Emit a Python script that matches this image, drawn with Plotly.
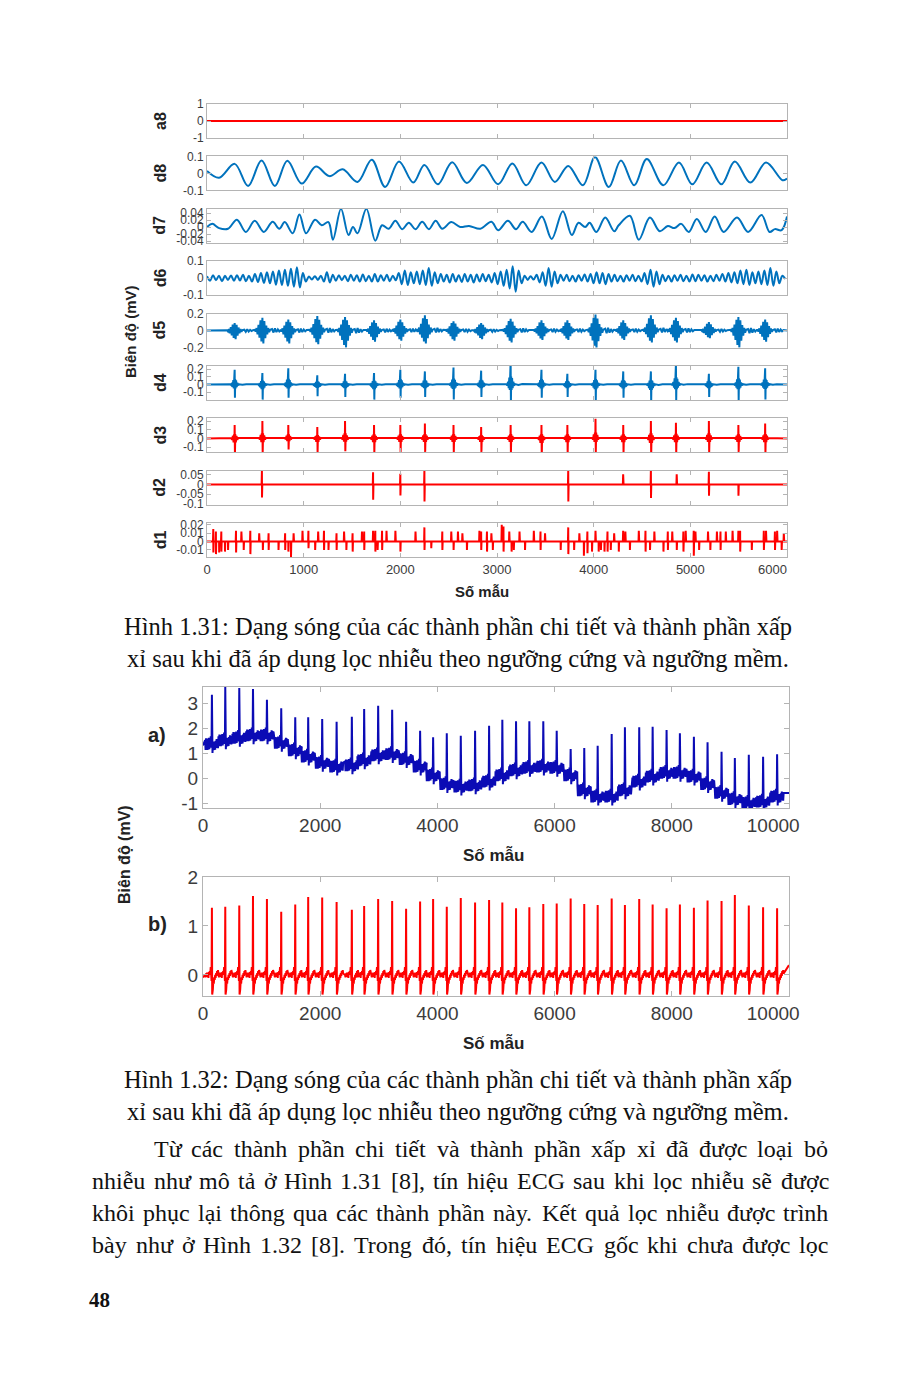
import unicodedata
import plotly.graph_objects as go

# page is drawn 8 px in from the window corner (browser body margin)
OFF = 8
W, H = 916 - OFF, 1388 - OFF

# ====================== Figure 1.31 data (samples 0..6000) ======================
sig_extent = [0, 6000]
beat_samples = [286, 573, 841, 1141, 1428, 1728, 2000, 2254, 2550, 2836,
                3141, 3460, 3728, 4019, 4306, 4592, 4851, 5192, 5497, 5774]

a8_samples = [0, 6000]
a8_values = [0, 0]

d8_samples = [0, 125, 286, 425, 564, 702, 831, 979, 1127, 1266, 1404, 1557, 1704, 1843, 1986,
              2134, 2249, 2388, 2536, 2688, 2855, 3012, 3159, 3303, 3460, 3598, 3737, 3889,
              4014, 4157, 4282, 4420, 4550, 4721, 4882, 5021, 5169, 5321, 5460, 5621, 5783,
              5954, 6000]
d8_values = [0.014, -0.026, 0.056, -0.074, 0.076, -0.074, 0.074, -0.06, 0.04, -0.016, 0.024,
             -0.05, 0.08, -0.08, 0.07, -0.054, 0.05, -0.064, 0.066, -0.056, 0.05, -0.064, 0.058,
             -0.07, 0.064, -0.05, 0.044, -0.07, 0.096, -0.08, 0.076, -0.07, 0.084, -0.07, 0.064,
             -0.064, 0.064, -0.064, 0.07, -0.054, 0.064, -0.04, -0.03]

d7_samples = [0, 55, 125, 217, 309, 402, 494, 587, 679, 748, 804, 887, 956, 1025, 1118, 1187,
              1256, 1303, 1386, 1464, 1510, 1557, 1649, 1741, 1811, 1880, 1949, 2019, 2088, 2157,
              2226, 2296, 2365, 2434, 2527, 2619, 2711, 2827, 2942, 3012, 3113, 3196, 3266, 3358,
              3464, 3566, 3681, 3774, 3843, 3912, 3958, 4028, 4120, 4213, 4259, 4374, 4467, 4582,
              4684, 4767, 4836, 4905, 4984, 5067, 5159, 5252, 5344, 5483, 5598, 5737, 5820, 5875,
              5944, 6000]
d7_values = [0, 0.009, -0.003, -0.005, 0.021, -0.014, 0.018, -0.014, 0.015, -0.005, 0.014,
             -0.018, 0.036, -0.018, 0.021, 0.005, 0.014, -0.036, 0.052, -0.023, 0, -0.018, 0.052,
             -0.039, 0.005, -0.005, 0.018, -0.006, 0.012, -0.006, 0.015, -0.006, 0.018, -0.005,
             0.014, 0, 0.003, -0.005, 0.015, -0.009, 0.018, -0.006, 0.015, -0.014, 0.03, -0.034,
             0.045, -0.023, 0.012, 0, 0.012, -0.014, 0.027, -0.012, 0.005, 0.032, -0.036, 0.027,
             -0.012, 0.003, -0.003, 0.009, -0.014, 0.023, -0.014, 0.03, -0.014, 0.027, -0.014,
             0.034, -0.014, -0.006, -0.009, 0.03]

d6_samples = [0, 31, 62, 93, 124, 155, 186, 217, 248, 279, 310, 341, 372, 403, 434, 465, 496,
              527, 558, 589, 620, 651, 682, 713, 744, 775, 806, 837, 868, 899, 930, 961, 992,
              1023, 1054, 1085, 1116, 1147, 1178, 1209, 1240, 1271, 1302, 1333, 1364, 1395,
              1426, 1457, 1488, 1519, 1550, 1581, 1612, 1643, 1674, 1705, 1736, 1767, 1798,
              1829, 1860, 1891, 1922, 1953, 1984, 2015, 2046, 2077, 2108, 2139, 2170, 2201,
              2232, 2263, 2294, 2325, 2356, 2387, 2418, 2449, 2480, 2511, 2542, 2573, 2604,
              2635, 2666, 2697, 2728, 2759, 2790, 2821, 2852, 2883, 2914, 2945, 2976, 3007,
              3038, 3069, 3100, 3131, 3162, 3193, 3224, 3255, 3286, 3317, 3348, 3379, 3410,
              3441, 3472, 3503, 3534, 3565, 3596, 3627, 3658, 3689, 3720, 3751, 3782, 3813,
              3844, 3875, 3906, 3937, 3968, 3999, 4030, 4061, 4092, 4123, 4154, 4185, 4216,
              4247, 4278, 4309, 4340, 4371, 4402, 4433, 4464, 4495, 4526, 4557, 4588, 4619,
              4650, 4681, 4712, 4743, 4774, 4805, 4836, 4867, 4898, 4929, 4960, 4991, 5022,
              5053, 5084, 5115, 5146, 5177, 5208, 5239, 5270, 5301, 5332, 5363, 5394, 5425,
              5456, 5487, 5518, 5549, 5580, 5611, 5642, 5673, 5704, 5735, 5766, 5797, 5828,
              5859, 5890, 5921, 5952, 5983]
d6_values = [0.012, -0.015, 0.018, -0.012, 0.015, -0.018, 0.014, -0.01, 0.016, -0.015,
             0.018, -0.014, 0.02, -0.018, 0.015, -0.02, 0.025, -0.022, 0.03, -0.028,
             0.035, -0.03, 0.04, -0.038, 0.045, -0.04, 0.05, -0.045, 0.055, -0.05,
             0.065, -0.055, 0.03, -0.02, 0.01, -0.008, 0.012, -0.01, 0.015, -0.02,
             0.035, -0.025, 0.02, -0.015, 0.018, -0.012, 0.015, -0.018, 0.02, -0.015,
             0.018, -0.02, 0.022, -0.018, 0.015, -0.02, 0.025, -0.02, 0.018, -0.015,
             0.02, -0.018, 0.015, -0.012, 0.03, -0.035, 0.045, -0.04, 0.035, -0.03,
             0.04, -0.035, 0.045, -0.04, 0.06, -0.045, 0.035, -0.03, 0.025, -0.02,
             0.02, -0.025, 0.025, -0.02, 0.018, -0.022, 0.025, -0.02, 0.02, -0.025,
             0.022, -0.02, 0.025, -0.018, 0.02, -0.025, 0.03, -0.035, 0.04, -0.045,
             0.05, -0.06, 0.07, -0.08, 0.045, -0.03, 0.015, -0.01, 0.012, -0.008,
             0.02, -0.025, 0.035, -0.045, 0.06, -0.05, 0.04, -0.03, 0.02, -0.015,
             0.02, -0.018, 0.015, -0.02, 0.018, -0.015, 0.022, -0.02, 0.025, -0.03,
             0.035, -0.03, 0.03, -0.035, 0.025, -0.02, 0.02, -0.018, 0.015, -0.02,
             0.018, -0.015, 0.02, -0.018, 0.015, -0.02, 0.03, -0.035, 0.05, -0.05,
             0.04, -0.035, 0.02, -0.018, 0.015, -0.02, 0.018, -0.015, 0.02, -0.018,
             0.015, -0.02, 0.022, -0.018, 0.02, -0.015, 0.018, -0.02, 0.015, -0.018,
             0.02, -0.015, 0.025, -0.02, 0.03, -0.025, 0.035, -0.03, 0.045, -0.035,
             0.05, -0.04, 0.035, -0.03, 0.04, -0.035, 0.045, -0.04, 0.06, -0.045,
             0.04, -0.03, 0.015, -0.005]

d5_top = [0.09, 0.15, 0.13, 0.17, 0.16, 0.12, 0.13, 0.18, 0.11, 0.09,
          0.14, 0.12, 0.12, 0.19, 0.12, 0.18, 0.15, 0.10, 0.16, 0.13]
d5_bottom = [-0.10, -0.15, -0.15, -0.16, -0.20, -0.13, -0.12, -0.15, -0.12, -0.10,
             -0.14, -0.11, -0.11, -0.21, -0.11, -0.14, -0.14, -0.09, -0.20, -0.13]

d4_top = [0.19, 0.15, 0.21, 0.12, 0.14, 0.15, 0.19, 0.17, 0.22, 0.18,
          0.30, 0.19, 0.14, 0.19, 0.17, 0.17, 0.27, 0.14, 0.23, 0.21]
d4_bottom = [-0.17, -0.195, -0.17, -0.15, -0.16, -0.195, -0.17, -0.16, -0.195, -0.16,
             -0.23, -0.17, -0.16, -0.20, -0.17, -0.23, -0.20, -0.16, -0.20, -0.195]

d3_top = [0.154, 0.20, 0.154, 0.13, 0.20, 0.154, 0.154, 0.17, 0.154, 0.13,
          0.154, 0.154, 0.154, 0.23, 0.154, 0.20, 0.18, 0.20, 0.154, 0.17]
d3_bottom = [-0.185, -0.165, -0.127, -0.158, -0.146, -0.165, -0.154, -0.154, -0.154, -0.154,
             -0.158, -0.20, -0.165, -0.154, -0.165, -0.20, -0.165, -0.158, -0.154, -0.165]

d2_samples = [568, 1718, 2000, 2249, 3737, 4305, 4592, 4859, 5192, 5497]
d2_top = [0.072, 0.062, 0.055, 0.072, 0.076, 0.052, 0.076, 0.052, 0.065, 0.0]
d2_bottom = [-0.067, -0.079, -0.057, -0.088, -0.088, 0.0, -0.07, 0.0, -0.058, -0.058]

d1_samples = [65, 92, 125, 148, 185, 217, 300, 356, 379, 448, 540, 577, 637, 739, 808, 841,
              868, 896, 988, 1049, 1118, 1150, 1210, 1256, 1340, 1418, 1441, 1506, 1603, 1626,
              1718, 1741, 1764, 1811, 1857, 1949, 2000, 2157, 2249, 2319, 2434, 2527, 2550,
              2596, 2642, 2688, 2818, 2836, 2896, 2942, 2956, 3049, 3067, 3127, 3150, 3173,
              3233, 3289, 3381, 3450, 3497, 3658, 3737, 3797, 3852, 3898, 3935, 3982, 4019,
              4051, 4074, 4111, 4143, 4176, 4212, 4259, 4305, 4328, 4374, 4467, 4536, 4582,
              4628, 4721, 4767, 4813, 4859, 4928, 4952, 5035, 5053, 5090, 5183, 5206, 5275,
              5312, 5367, 5437, 5497, 5515, 5635, 5760, 5783, 5875, 5898, 5944, 5967]
d1_top = [0.015, 0.012, 0, 0.012, 0, 0, 0.013, 0.012, 0, 0.013, 0.01, 0, 0.01, 0, 0.01, 0,
          0, 0.01, 0.013, 0.013, 0, 0.012, 0.013, 0, 0.01, 0.012, 0, 0.01, 0.012, 0.012,
          0.013, 0.013, 0, 0.013, 0.013, 0.013, 0, 0.012, 0.017, 0, 0.012, 0.012, 0,
          0.012, 0.01, 0, 0.013, 0.012, 0.012, 0.01, 0, 0.02, 0.018, 0.012, 0, 0,
          0.012, 0, 0.013, 0.012, 0.01, 0, 0.017, 0, 0.01, 0, 0.012, 0, 0.013,
          0, 0, 0, 0.012, 0, 0.01, 0, 0.013, 0.012, 0, 0.013, 0.013, 0,
          0.012, 0, 0.012, 0.012, 0, 0.012, 0.013, 0.013, 0.012, 0, 0.012, 0, 0.012,
          0.012, 0.012, 0.013, 0.013, 0.013, 0, 0.013, 0.013, 0.012, 0.013, 0, 0.01]
d1_bottom = [-0.013, -0.015, -0.013, -0.012, -0.012, -0.01, -0.013, 0, -0.01, -0.015, 0, -0.01,
             -0.01, -0.01, -0.01, -0.012, -0.019, 0, 0, -0.008, -0.01, 0, -0.01, -0.01,
             -0.01, 0, -0.01, -0.012, 0, -0.01, 0, -0.012, -0.01, -0.01, 0, 0, -0.012, 0,
             -0.01, -0.008, -0.01, 0, -0.01, 0, 0, -0.01, 0, -0.01, -0.012, 0, -0.01, 0,
             -0.012, 0, -0.012, -0.01, 0, -0.01, 0, -0.01, 0, -0.01, -0.015, -0.01, 0,
             -0.017, -0.014, -0.012, 0, -0.012, -0.01, -0.012, -0.012, -0.01, 0, -0.012, 0,
             0, -0.01, 0, -0.012, -0.01, 0, -0.012, -0.01, 0, -0.01, -0.012, 0, -0.017, 0,
             -0.01, 0, -0.01, 0, -0.01, 0, 0, 0, -0.012, -0.01, -0.01, 0, -0.01, 0, -0.01, 0]

# shape templates of one beat's burst (offset in samples, relative weight)
d5_offsets = [-80, -70, -60, -50, -40, -30, -20, -10, 0, 10, 20, 30, 40, 50, 60, 70, 80,
              100, 115, 130, 145, 160, 175, 190]
d5_weights = [0.06, -0.08, 0.2, -0.3, 0.45, -0.55, 0.8, -0.85, 1.0, -1.0, 0.75, -0.6, 0.4,
              -0.3, 0.2, -0.12, 0.06, 0.12, -0.15, 0.18, -0.12, 0.1, -0.06, 0.05]
d4_offsets = [-45, -35, -27, -20, -14, -9, -5, -2, 0, 3, 6, 10, 15, 21, 28, 36, 46, 80, 120]
d4_weights = [0.02, -0.05, 0.12, -0.2, 0.3, -0.3, 0.35, -0.25, 1.0, -1.0, 0.35, -0.3, 0.28,
              -0.2, 0.12, -0.06, 0.02, -0.02, 0.02]
d3_offsets = [-35, -26, -18, -11, -6, -2, 0, 3, 7, 12, 19, 27, 36]
d3_weights = [0.03, -0.08, 0.2, -0.25, 0.3, -0.2, 1.0, -1.0, 0.3, -0.25, 0.18, -0.08, 0.03]
spike_offsets = [-3, 0, 1, 4]
spike_weights = [0, 1.0, -1.0, 0]

# ====================== Figure 1.32 data (samples 0..10000) ======================
ecg_extent = [0, 10000]
r_samples = [152, 380, 619, 853, 1091, 1335, 1574, 1795, 2034, 2280, 2540, 2750, 2989, 3228,
             3466, 3705, 3927, 4160, 4399, 4643, 4882, 5108, 5342, 5569, 5807, 6036, 6274,
             6506, 6735, 6974, 7200, 7444, 7673, 7911, 8138, 8377, 8610, 8849, 9076, 9314,
             9558, 9797]
raw_r_peak = [3.33, 3.64, 3.60, 3.56, 3.13, 2.79, 2.43, 2.43, 2.36, 2.25, 2.45, 2.76, 2.89,
              2.73, 2.25, 1.89, 1.63, 1.79, 1.69, 1.89, 2.09, 2.33, 2.27, 2.27, 2.27, 1.89,
              1.16, 1.20, 1.29, 1.76, 2.03, 2.03, 2.05, 1.92, 1.79, 1.65, 1.43, 1.05, 0.80,
              0.93, 0.85, 0.95]
raw_baseline = [1.35, 1.5, 1.6, 1.7, 1.7, 1.4, 1.1, 0.85, 0.6, 0.45, 0.5, 0.7, 0.9, 0.95,
                0.75, 0.45, 0.1, -0.25, -0.35, -0.3, -0.15, 0.1, 0.3, 0.4, 0.45, 0.4, 0.1,
                -0.5, -0.75, -0.75, -0.5, -0.15, 0.05, 0.2, 0.2, 0.05, -0.25, -0.6, -0.85,
                -1.0, -0.95, -0.75]
raw_ends = [1.3, -0.6]
filt_r_peak = [1.37, 1.39, 1.42, 1.61, 1.55, 1.29, 1.44, 1.59, 1.58, 1.49, 1.33, 1.41, 1.55,
               1.51, 1.35, 1.50, 1.55, 1.39, 1.57, 1.48, 1.53, 1.48, 1.36, 1.38, 1.45, 1.46,
               1.56, 1.45, 1.43, 1.56, 1.43, 1.55, 1.44, 1.36, 1.44, 1.37, 1.52, 1.51, 1.63,
               1.42, 1.38, 1.36]
filt_ends = [-0.05, 0.2]
ecg_offsets = [-116, -108, -100, -92, -84, -76, -68, -60, -52, -44, -36, -28, -20, -12, -6,
               0, 5, 10, 16, 24, 32, 40, 48, 56, 64, 72, 80, 88, 96, 104, 112]
ecg_shape = [0.00, -0.05, 0.03, -0.04, 0.05, -0.02, 0.04, -0.06, 0.06, 0.00, 0.08, 0.03,
             0.16, 0.05, -0.12, None, -0.40, -0.22, -0.30, -0.12, -0.18, -0.05, -0.10, 0.00,
             -0.06, 0.04, -0.02, 0.08, 0.02, 0.10, 0.03]
raw_jitter = [0.17, -0.2, 0.22, -0.14, 0.2, -0.22, 0.14, -0.17, 0.22, -0.2, 0.17, -0.14,
              0.22, -0.17, 0.1, 0.0, 0.1, -0.22, 0.2, -0.17, 0.22, -0.2, 0.14, -0.22, 0.17,
              -0.14, 0.22, -0.2, 0.17, -0.22, 0.14]

# ----------------------------------------------------------------------------
BLUE = "#0072BD"
RED = "#FF0000"
DBLUE = "#0B0BB5"
AXC = "#B4B4B4"
TXT = "#3C3C3C"
SANS = "Liberation Sans, Arial, sans-serif"
SERIF = "Liberation Serif, Times New Roman, serif"
NB = "\u00a0"


def bursts(beats, tops, bottoms, offsets, weights, extent):
    xs, ys = [extent[0]], [0.0]
    for b, t, bt in zip(beats, tops, bottoms):
        for o, w in zip(offsets, weights):
            xs.append(b + o)
            ys.append(w * t if w >= 0 else -w * bt)
    xs.append(extent[1])
    ys.append(0.0)
    return xs, ys


def ecg(beats, peaks, bases, jitter, ends, extent, scale=1.0):
    xs, ys = [extent[0]], [ends[0]]
    for b, p, base in zip(beats, peaks, bases):
        for o, s, j in zip(ecg_offsets, ecg_shape, jitter):
            xs.append(b + o)
            ys.append(p if s is None else base + s * scale + j)
    xs.append(extent[1])
    ys.append(ends[1])
    return xs, ys


fig = go.Figure()
layout = {}


def px_x(x):
    return (x - OFF) / W


def px_y(y):
    return 1 - (y - OFF) / H


def note(text, x, y, size, family=SANS, angle=0, xanchor="center", color="#222"):
    return dict(text=text, x=px_x(x), y=px_y(y), xref="paper", yref="paper", showarrow=False,
                textangle=angle, xanchor=xanchor, yanchor="middle",
                font=dict(family=family, size=size, color=color))


# ---------- Figure 1.31 panels ----------
panels = [
    ("a8", (a8_samples, a8_values), RED, [-1, 1], [-1, 0, 1], ["-1", "0", "1"], "linear"),
    ("d8", (d8_samples, d8_values), BLUE, [-0.1, 0.1], [-0.1, 0, 0.1], ["-0.1", "0", "0.1"], "spline"),
    ("d7", (d7_samples, d7_values), BLUE, [-0.045, 0.052], [-0.04, -0.02, 0, 0.02, 0.04],
     ["-0.04", "-0.02", "0", "0.02", "0.04"], "spline"),
    ("d6", (d6_samples, d6_values), BLUE, [-0.1, 0.1], [-0.1, 0, 0.1], ["-0.1", "0", "0.1"], "spline"),
    ("d5", bursts(beat_samples, d5_top, d5_bottom, d5_offsets, d5_weights, sig_extent), BLUE,
     [-0.2, 0.2], [-0.2, 0, 0.2], ["-0.2", "0", "0.2"], "linear"),
    ("d4", bursts(beat_samples, d4_top, d4_bottom, d4_offsets, d4_weights, sig_extent), BLUE,
     [-0.2, 0.24], [-0.1, 0, 0.1, 0.2], ["-0.1", "0", "0.1", "0.2"], "linear"),
    ("d3", bursts(beat_samples, d3_top, d3_bottom, d3_offsets, d3_weights, sig_extent), RED,
     [-0.16, 0.23], [-0.1, 0, 0.1, 0.2], ["-0.1", "0", "0.1", "0.2"], "linear"),
    ("d2", bursts(d2_samples, d2_top, d2_bottom, spike_offsets, spike_weights, sig_extent), RED,
     [-0.105, 0.07], [-0.1, -0.05, 0, 0.05], ["-0.1", "-0.05", "0", "0.05"], "linear"),
    ("d1", bursts(d1_samples, d1_top, d1_bottom, spike_offsets, spike_weights, sig_extent), RED,
     [-0.0187, 0.022], [-0.01, 0, 0.01, 0.02], ["-0.01", "0", "0.01", "0.02"], "linear"),
]

annotations = []
for i, (name, (xs, ys), col, yr, tv, tt, shape) in enumerate(panels):
    k = i + 1
    top = 104 + 52.4 * i
    bot = top + 34
    xa = "xaxis" if k == 1 else f"xaxis{k}"
    ya = "yaxis" if k == 1 else f"yaxis{k}"
    xr = "x" if k == 1 else f"x{k}"
    yr_ = "y" if k == 1 else f"y{k}"
    fig.add_trace(go.Scatter(x=xs, y=ys, mode="lines", line=dict(color=col, width=2, shape=shape),
                             xaxis=xr, yaxis=yr_, showlegend=False, hoverinfo="skip"))
    layout[xa] = dict(domain=[px_x(207), px_x(787)], range=[0, 6000], anchor=yr_,
                      tickvals=[0, 1000, 2000, 3000, 4000, 5000, 6000],
                      ticktext=["0", "1000", "2000", "3000", "4000", "5000", "6000" + NB * 8],
                      showticklabels=(name == "d1"), ticks="inside", ticklen=4, tickcolor=AXC,
                      showline=True, linecolor=AXC, linewidth=1, mirror="ticks", showgrid=False,
                      zeroline=False, automargin=False,
                      tickfont=dict(family=SANS, size=13, color=TXT))
    layout[ya] = dict(domain=[px_y(bot), px_y(top)], range=yr, anchor=xr, tickvals=tv, ticktext=tt,
                      ticks="inside", ticklen=4, tickcolor=AXC, showline=True, linecolor=AXC,
                      linewidth=1, mirror="ticks", showgrid=False, zeroline=False,
                      automargin=False, tickfont=dict(family=SANS, size=12, color=TXT))
    annotations.append(note(f"<b>{name}</b>", 160, (top + bot) / 2, 16, angle=-90))

annotations.append(note("<b>Biên độ (mV)</b>", 131, 332, 15, angle=-90))
annotations.append(note("<b>Số mẫu</b>", 482, 591, 15))

# ---------- Figure 1.32 panels ----------
ax_raw, ay_raw = ecg(r_samples, raw_r_peak, raw_baseline, raw_jitter, raw_ends, ecg_extent, 0.6)
ax_f, ay_f = ecg(r_samples, filt_r_peak, [0] * len(r_samples), [0] * len(ecg_offsets),
                 filt_ends, ecg_extent)

bottom_panels = [
    ("a)", ax_raw, ay_raw, DBLUE, [-1.2, 3.64], [-1, 0, 1, 2, 3], 687, 808),
    ("b)", ax_f, ay_f, RED, [-0.43, 2.0], [0, 1, 2], 877, 996),
]
for j, (lab, xs, ys, col, yr, tv, top, bot) in enumerate(bottom_panels):
    k = 10 + j
    fig.add_trace(go.Scatter(x=xs, y=ys, mode="lines", line=dict(color=col, width=2),
                             xaxis=f"x{k}", yaxis=f"y{k}", showlegend=False, hoverinfo="skip"))
    layout[f"xaxis{k}"] = dict(domain=[px_x(203), px_x(789)], range=[0, 10000], anchor=f"y{k}",
                               tickvals=[0, 2000, 4000, 6000, 8000, 10000],
                               ticktext=["0", "2000", "4000", "6000", "8000", "10000" + NB * 6],
                               ticks="inside", ticklen=5, tickcolor=AXC, showline=True,
                               linecolor=AXC, linewidth=1, mirror="ticks", showgrid=False,
                               zeroline=False, automargin=False,
                               tickfont=dict(family=SANS, size=19, color=TXT))
    layout[f"yaxis{k}"] = dict(domain=[px_y(bot), px_y(top)], range=yr, anchor=f"x{k}",
                               tickvals=tv, ticktext=[str(v) if v >= 0 else f"-{abs(v)}" for v in tv],
                               ticks="inside", ticklen=5, tickcolor=AXC, showline=True,
                               linecolor=AXC, linewidth=1, mirror="ticks", showgrid=False,
                               zeroline=False, automargin=False,
                               tickfont=dict(family=SANS, size=19, color=TXT))
    annotations.append(note(f"<b>{lab}</b>", 157, (top + bot) / 2 - 13, 20))
    annotations.append(note("<b>Số mẫu</b>", 493, bot + 47, 17))

annotations.append(note("<b>Biên độ (mV)</b>", 124, 855, 16, angle=-90))

# ---------- page text ----------
caption1 = "Hình 1.31: Dạng sóng của các thành phần chi tiết và thành phần xấp"
caption2 = "xỉ sau khi đã áp dụng lọc nhiễu theo ngưỡng cứng và ngưỡng mềm."
caption3 = "Hình 1.32: Dạng sóng của các thành phần chi tiết và thành phần xấp"
for txt, y in [(caption1, 626), (caption2, 658), (caption3, 1079), (caption2, 1111)]:
    annotations.append(note(txt, 458, y, 24.5, family=SERIF, color="#111"))

para = [
    ("Từ các thành phần chi tiết và thành phần xấp xỉ đã được loại bỏ", 152, 826, 1149),
    ("nhiễu như mô tả ở Hình 1.31 [8], tín hiệu ECG sau khi lọc nhiễu sẽ được", 90, 826, 1181),
    ("khôi phục lại thông qua các thành phần này. Kết quả lọc nhiễu được trình", 90, 826, 1213),
    ("bày như ở Hình 1.32 [8]. Trong đó, tín hiệu ECG gốc khi chưa được lọc", 90, 826, 1245),
]

# approximate Times advance widths (per 1000 em) used to justify the paragraph lines
TIMES_W = {'a': 444, 'b': 500, 'c': 444, 'd': 500, 'e': 444, 'f': 333, 'g': 500, 'h': 500,
           'i': 278, 'j': 278, 'k': 500, 'l': 278, 'm': 778, 'n': 500, 'o': 500, 'p': 500,
           'q': 500, 'r': 333, 's': 389, 't': 278, 'u': 500, 'v': 500, 'w': 722, 'x': 500,
           'y': 500, 'z': 444, 'đ': 500, '.': 250, ',': 250, '[': 333, ']': 333, ':': 278,
           'H': 722, 'E': 611, 'C': 667, 'G': 722, 'K': 722, 'T': 611}
PSIZE = 24


def word_width(w):
    total = 0
    for ch in w:
        base = unicodedata.normalize("NFD", ch)[0]
        if ch in TIMES_W:
            total += TIMES_W[ch]
        elif base.isdigit():
            total += 500
        elif base in TIMES_W:
            total += TIMES_W[base] + (20 if ch.lower() in "ơưƠƯ" else 0)
        else:
            total += 500
    return total / 1000 * PSIZE


for txt, x0, x1, y in para:
    words = txt.split(" ")
    widths = [word_width(w) for w in words]
    gap = (x1 - x0 - sum(widths)) / (len(words) - 1)
    x = x0
    for w, wd in zip(words, widths):
        annotations.append(note(w, x, y, PSIZE, family=SERIF, xanchor="left", color="#111"))
        x += wd + gap

annotations.append(note("<b>48</b>", 99, 1300, 21, family=SERIF, color="#111"))

fig.update_layout(width=W, height=H,
                  margin=dict(l=0, r=0, t=0, b=0, pad=0, autoexpand=False),
                  paper_bgcolor="white", plot_bgcolor="white", annotations=annotations, **layout)
fig.write_html("out.html")
